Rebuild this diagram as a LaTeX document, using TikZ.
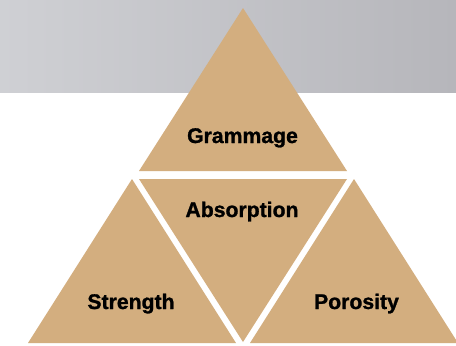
\documentclass[tikz,border=0pt]{standalone}
\usepackage{fontspec}
\setmainfont{Liberation Sans}
\newfontfamily\lblfont[FakeBold=1.2]{Liberation Sans Bold}
\definecolor{tan}{HTML}{D3AE7F}
\definecolor{greyL}{HTML}{CFD0D4}
\definecolor{greyR}{HTML}{B6B6BB}
\begin{document}
\begin{tikzpicture}[x=1pt,y=-1pt,
  tri/.style={fill=tan,draw=none},
  lbl/.style={anchor=base,font=\fontsize{21.2}{25}\lblfont,text=black,inner sep=0pt}]
\useasboundingbox (0,0) rectangle (456,346);
\fill[white] (0,0) rectangle (456,346);
\shade[left color=greyL,right color=greyR] (0,0) rectangle (456,92);
% top triangle
\fill[tri] (243,8) -- (347,171) -- (139,171) -- cycle;
% middle inverted triangle
\fill[tri] (139,179) -- (347,179) -- (243,342) -- cycle;
% left triangle
\fill[tri] (132,179) -- (236,343) -- (28,343) -- cycle;
% right triangle
\fill[tri] (354,179) -- (458,343) -- (250,343) -- cycle;
\node[lbl] (gram) at (242.5,143) {Grammage};
\node[lbl] (abs) at (242,217) {Absorption};
\node[lbl] (str) at (131,309) {Strength};
\node[lbl] (por) at (356.5,309) {Porosity};
\end{tikzpicture}
\end{document}
